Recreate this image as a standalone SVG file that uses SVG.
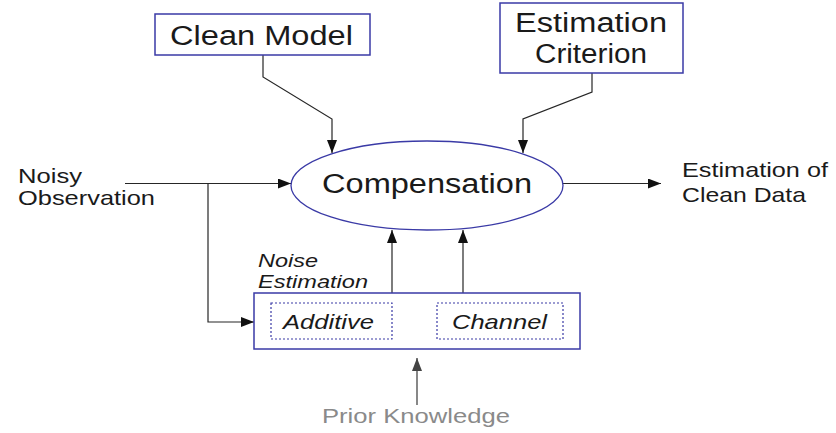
<svg xmlns="http://www.w3.org/2000/svg" width="836" height="433" viewBox="0 0 836 433">
  <style>
    .box { fill: #ffffff; stroke: #3a3aa6; stroke-width: 1.5; }
    .sub { fill: none; stroke: #3a3aa6; stroke-width: 1.2; stroke-dasharray: 2 2; }
    .lbl { font-family: "Liberation Sans", Arial, sans-serif; fill: #1a1a1a; }
    .it { font-style: italic; }
    .wire { fill: none; stroke: #262626; stroke-width: 1.2; }
    .wire-grey { fill: none; stroke: #555555; stroke-width: 1.4; }
  </style>
  <defs>
    <marker id="arrow" markerUnits="userSpaceOnUse" markerWidth="14" markerHeight="12" refX="13" refY="5" orient="auto">
      <path d="M0,0 L13,5 L0,10 Z" fill="#111111"/>
    </marker>
    <marker id="arrow-grey" markerUnits="userSpaceOnUse" markerWidth="14" markerHeight="12" refX="13" refY="5" orient="auto">
      <path d="M0,0 L13,5 L0,10 Z" fill="#444444"/>
    </marker>
  </defs>

  <g id="connectors">
    <!-- Clean Model to Compensation -->
    <polyline class="wire" points="263,55 263,77 332,119 332,153" marker-end="url(#arrow)"/>
    <!-- Estimation Criterion to Compensation -->
    <polyline class="wire" points="592,73 592,92 523,119 523,153" marker-end="url(#arrow)"/>
    <!-- Noisy observation into Compensation -->
    <polyline class="wire" points="125,183.5 291,183.5" marker-end="url(#arrow)"/>
    <!-- Branch down to Noise Estimation -->
    <polyline class="wire" points="208,183.5 208,322 254,322" marker-end="url(#arrow)"/>
    <!-- Compensation output -->
    <polyline class="wire" points="563,183.5 661,183.5" marker-end="url(#arrow)"/>
    <!-- Noise estimates up into Compensation -->
    <polyline class="wire" points="392,293 392,230" marker-end="url(#arrow)"/>
    <polyline class="wire" points="463,293 463,230" marker-end="url(#arrow)"/>
    <!-- Prior knowledge into Noise Estimation -->
    <polyline class="wire-grey" points="417,405 417,358" marker-end="url(#arrow-grey)"/>
  </g>

  <g id="clean-model">
    <rect class="box" x="155" y="14" width="215" height="41"/>
    <text class="lbl" x="170" y="45" font-size="27" textLength="183" lengthAdjust="spacingAndGlyphs">Clean Model</text>
  </g>

  <g id="estimation-criterion">
    <rect class="box" x="500" y="3" width="183" height="70"/>
    <text class="lbl" x="515" y="32" font-size="27" textLength="152" lengthAdjust="spacingAndGlyphs">Estimation</text>
    <text class="lbl" x="535" y="63" font-size="27" textLength="112" lengthAdjust="spacingAndGlyphs">Criterion</text>
  </g>

  <g id="compensation">
    <ellipse cx="427" cy="185.5" rx="136" ry="44.5" fill="#ffffff" stroke="#3a3aa6" stroke-width="1.3"/>
    <text class="lbl" x="322" y="193" font-size="27" textLength="210" lengthAdjust="spacingAndGlyphs">Compensation</text>
  </g>

  <g id="noisy-observation">
    <text class="lbl" x="18" y="183" font-size="21" textLength="64" lengthAdjust="spacingAndGlyphs">Noisy</text>
    <text class="lbl" x="18" y="205" font-size="21" textLength="137" lengthAdjust="spacingAndGlyphs">Observation</text>
  </g>

  <g id="clean-data">
    <text class="lbl" x="682" y="177" font-size="21" textLength="146" lengthAdjust="spacingAndGlyphs">Estimation of</text>
    <text class="lbl" x="682" y="202" font-size="21" textLength="124" lengthAdjust="spacingAndGlyphs">Clean Data</text>
  </g>

  <g id="noise-estimation">
    <text class="lbl it" x="258" y="267" font-size="19" textLength="60" lengthAdjust="spacingAndGlyphs">Noise</text>
    <text class="lbl it" x="258" y="288" font-size="19" textLength="110" lengthAdjust="spacingAndGlyphs">Estimation</text>
    <rect class="box" x="254" y="293" width="326" height="56"/>
    <g id="additive">
      <rect class="sub" x="271" y="303" width="121" height="36"/>
      <text class="lbl it" x="283" y="329" font-size="21" textLength="91" lengthAdjust="spacingAndGlyphs">Additive</text>
    </g>
    <g id="channel">
      <rect class="sub" x="437" y="303" width="126" height="36"/>
      <text class="lbl it" x="452" y="329" font-size="21" textLength="95" lengthAdjust="spacingAndGlyphs">Channel</text>
    </g>
  </g>

  <g id="prior-knowledge">
    <text class="lbl" x="322" y="423" font-size="21" fill="#8a8a8a" style="fill:#8a8a8a" textLength="188" lengthAdjust="spacingAndGlyphs">Prior Knowledge</text>
  </g>
</svg>
